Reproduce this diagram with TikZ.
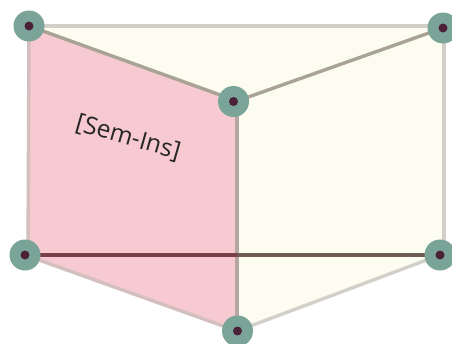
\documentclass[tikz,border=0pt]{standalone}
\usepackage{fontspec}
\setmainfont{Open Sans}
\definecolor{pinkface}{HTML}{F6CAD0}
\definecolor{creamface}{HTML}{FDFCF0}
\definecolor{vertexgreen}{HTML}{7BA498}
\definecolor{vertexdot}{HTML}{4A2136}
\definecolor{edgelight}{HTML}{D2D0C9}
\definecolor{edgepink}{HTML}{D3C0BE}
\definecolor{edgemid}{HTML}{A9A396}
\definecolor{edgevert}{HTML}{B5A6A0}
\definecolor{edgedarkA}{HTML}{7A4048}
\definecolor{edgedarkB}{HTML}{6D5D52}
\tikzset{
  x=1pt,y=-1pt,
  vertex/.style={circle,fill=vertexgreen,minimum size=31pt,inner sep=0pt},
  vdot/.style={circle,fill=vertexdot,minimum size=9pt,inner sep=0pt},
  edge/.style={line width=3.4pt},
}
\begin{document}
\begin{tikzpicture}
\useasboundingbox (0,0) rectangle (452,343);
\clip (0,0) rectangle (452,343);
\fill[white] (0,0) rectangle (452,343);
\coordinate (ctl) at (29,26);
\coordinate (ctr) at (444,26);
\coordinate (cm) at (237,101);
\coordinate (cb) at (237,331);
\coordinate (cbl) at (28,255);
\coordinate (cbr) at (444,255);
\coordinate (cmid) at (237,255);
\fill[creamface] (ctl) -- (ctr) -- (cbr) -- (440,255) -- (cb) -- (cm) -- cycle;
\fill[pinkface] (ctl) -- (cm) -- (cb) -- (25,255) -- (cbl) -- cycle;
\draw[edge,edgelight] (ctl) -- (ctr);
\draw[edge,edgelight] (ctr) -- (cbr);
\draw[edge,edgepink] (ctl) -- (cbl);
\draw[edge,edgemid] (ctl) -- (cm);
\draw[edge,edgemid] (cm) -- (443,28);
\draw[edge,edgepink] (25,255) -- (cb);
\draw[edge,edgelight] (cb) -- (440,255);
\draw[edge,edgevert] (cm) -- (cb);
\draw[edge,edgedarkA,line width=3.8pt] (25,255) -- (cmid);
\draw[edge,edgedarkB,line width=3.8pt] (cmid) -- (440,255);
\node[vertex] (tl) at (29,26) {};
\node[vertex] (tr) at (443,28) {};
\node[vertex] (m) at (233.5,101.5) {};
\node[vertex] (bl) at (25,255) {};
\node[vertex] (br) at (440,255) {};
\node[vertex] (b) at (237.5,331) {};
\foreach \n in {tl,tr,m,bl,br,b}{\node[vdot] (d\n) at (\n) {};}
\node[rotate=-16,text=black!85,font=\fontsize{24.5pt}{26pt}\selectfont] (label) at (128,138) {[Sem-Ins]};
\end{tikzpicture}
\end{document}
